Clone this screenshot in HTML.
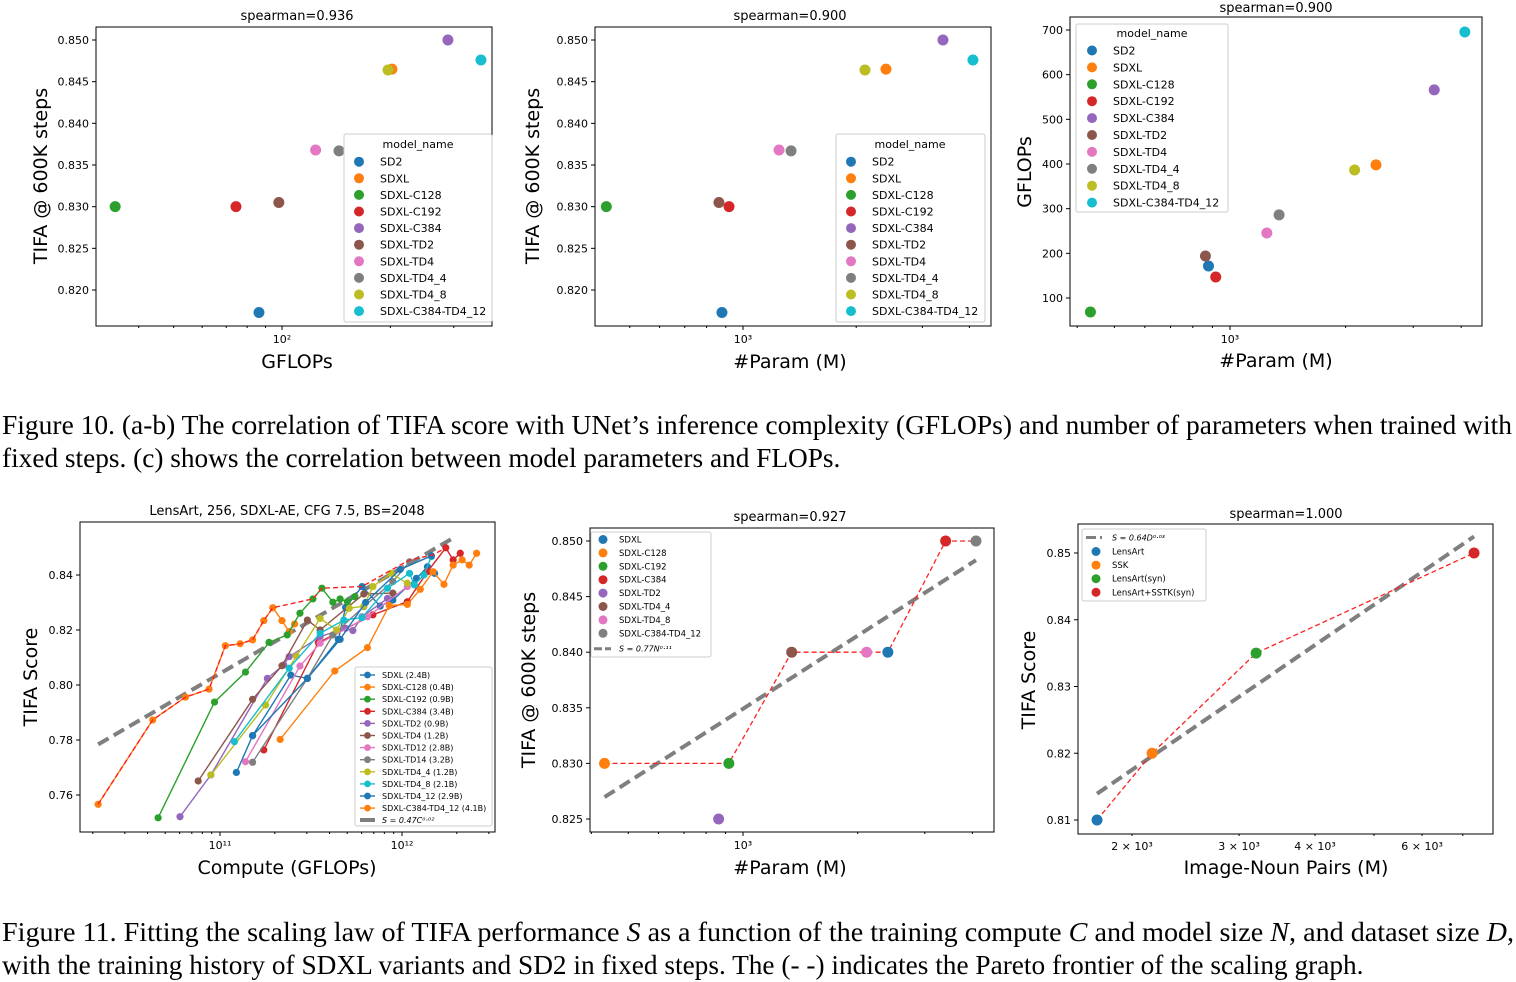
<!DOCTYPE html>
<html><head><meta charset="utf-8"><style>
html,body{margin:0;padding:0;background:#fff;}
svg{display:block;font-family:"DejaVu Sans","Liberation Sans",sans-serif;}
.cap{font-family:"Liberation Serif",serif;font-size:27.3px;fill:#000;}
</style></head><body>
<svg id="fig" width="1516" height="982" viewBox="0 0 1516 982" xmlns="http://www.w3.org/2000/svg">
<text class="cap" x="2" y="434" textLength="1510" lengthAdjust="spacingAndGlyphs">Figure 10. (a-b) The correlation of TIFA score with UNet’s inference complexity (GFLOPs) and number of parameters when trained with</text>
<text class="cap" x="2" y="467">fixed steps. (c) shows the correlation between model parameters and FLOPs.</text>
<text class="cap" x="2" y="941" textLength="1512" lengthAdjust="spacingAndGlyphs">Figure 11. Fitting the scaling law of TIFA performance <tspan font-style="italic">S</tspan> as a function of the training compute <tspan font-style="italic">C</tspan> and model size <tspan font-style="italic">N</tspan>, and dataset size <tspan font-style="italic">D</tspan>,</text>
<text class="cap" x="2" y="974">with the training history of SDXL variants and SD2 in fixed steps. The (- -) indicates the Pareto frontier of the scaling graph.</text>
</svg>
<script>
// ---------- data ----------
const models = ['SD2','SDXL','SDXL-C128','SDXL-C192','SDXL-C384','SDXL-TD2','SDXL-TD4','SDXL-TD4_4','SDXL-TD4_8','SDXL-C384-TD4_12'];
const fig10aGflops = [86.3,202,34.4,74.5,289,98,124,144,197,357];
const fig10Tifa = [0.8173,0.8465,0.830,0.830,0.850,0.8305,0.8368,0.8367,0.8464,0.8476];
const fig10Params = [879,2400,433,918,3403,863,1247,1342,2111,4088];
const fig10cGflops = [171.6,398,68.7,147,566,194,245.5,286,386.5,695.5];
const tifaTicks = [0.850,0.845,0.840,0.835,0.830,0.825,0.820];
const gflopTicks = [100,200,300,400,500,600,700];

const f11Names = ['SDXL (2.4B)','SDXL-C128 (0.4B)','SDXL-C192 (0.9B)','SDXL-C384 (3.4B)','SDXL-TD2 (0.9B)','SDXL-TD4 (1.2B)','SDXL-TD12 (2.8B)','SDXL-TD14 (3.2B)','SDXL-TD4_4 (1.2B)','SDXL-TD4_8 (2.1B)','SDXL-TD4_12 (2.9B)','SDXL-C384-TD4_12 (4.1B)'];
const cSDXL = [1.23e11,1.51e11,2.45e11,3.02e11,4.47e11,4.90e11,6.03e11,7.59e11,8.91e11,1.20e12,1.38e12,1.51e12];
const sSDXL = [.7682,.7816,.8036,.8024,.8166,.8282,.8358,.8287,.8309,.8388,.843,.8406];
const cC128 = [2.14e10,4.27e10,6.46e10,8.71e10,1.07e11,1.29e11,1.51e11,1.74e11,1.95e11,2.19e11,2.40e11,2.57e11];
const sC128 = [.7566,.7873,.7956,.7985,.8143,.815,.8164,.8234,.8281,.8234,.8194,.8222];
const cC192 = [4.57e10,9.33e10,1.38e11,1.86e11,2.34e11,2.75e11,3.24e11,3.63e11,4.17e11,4.57e11,5.01e11,5.50e11];
const sC192 = [.7517,.7938,.8047,.8155,.8182,.8261,.8313,.8352,.8301,.8313,.8303,.8321];
const cC384 = [1.74e11,3.47e11,6.92e11,1.07e12,1.38e12,1.74e12,1.91e12,2.09e12];
const sC384 = [.7764,.8154,.8255,.8303,.8412,.8499,.8455,.8479];
const cTD2 = [6.03e10,8.91e10,1.82e11,2.24e11,2.40e11,3.55e11,4.90e11,5.37e11,6.03e11,8.32e11];
const sTD2 = [.7521,.7673,.8024,.8073,.8103,.8176,.8206,.8198,.8248,.8315];
const cTD4 = [7.59e10,1.51e11,2.19e11,3.02e11,3.55e11,6.17e11,8.91e11];
const sTD4 = [.7651,.7948,.807,.8236,.82,.8331,.8334];
const cTD12 = [1.38e11,2.75e11,3.55e11,6.46e11,1.07e12];
const sTD12 = [.7721,.8069,.8152,.8248,.8358];
const cTD14 = [1.51e11,3.02e11,4.17e11,6.17e11,8.91e11,1.10e12];
const sTD14 = [.7719,.8024,.8182,.8285,.8376,.8448];
const cTD44 = [8.91e10,1.78e11,2.63e11,3.55e11,4.37e11,5.13e11,6.17e11,6.92e11,8.71e11,1.07e12];
const sTD44 = [.7673,.7927,.8105,.8242,.82,.8279,.8287,.8358,.8406,.837];
const cTD48 = [1.20e11,2.40e11,3.55e11,4.79e11,6.03e11,8.32e11,1.10e12,1.17e12,1.32e12,1.45e12];
const sTD48 = [.7794,.8061,.8188,.8236,.8245,.8352,.8406,.8364,.84,.8467];
const cTD412 = [1.51e11,3.02e11,4.57e11,6.31e11,9.77e11,1.45e12];
const sTD412 = [.7816,.8024,.8166,.83,.842,.847];
const cC384TD = [2.14e11,4.27e11,6.46e11,8.51e11,1.07e12,1.26e12,1.48e12,1.70e12,1.91e12,2.14e12,2.34e12,2.57e12];
const sC384TD = [.7802,.8051,.8136,.8289,.8293,.8348,.8412,.8366,.8436,.8455,.8436,.8479];
const cPareto = [2.14e10,4.27e10,6.46e10,8.71e10,1.07e11,1.29e11,1.51e11,1.74e11,1.95e11,3.24e11,3.63e11,6.03e11,1.10e12,1.48e12,1.74e12];
const sPareto = [.7566,.7873,.7956,.7985,.8143,.815,.8164,.8234,.8281,.8313,.8352,.8358,.8455,.8473,.8499];
const computeFitA = 0.478, computeFitB = 0.0205, computeFitRange = [2.14e10,1.86e12];
const f11aTicks = [0.84,0.82,0.80,0.78,0.76];

const f11bNames = ['SDXL','SDXL-C128','SDXL-C192','SDXL-C384','SDXL-TD2','SDXL-TD4_4','SDXL-TD4_8','SDXL-C384-TD4_12'];
const f11bParams = [2400,433,918,3403,863,1342,2111,4088];
const f11bTifa = [.840,.830,.830,.850,.825,.840,.840,.850];
const f11bParetoIdx = [1,2,5,0,3,7];
const paramFitA = 0.772, paramFitB = 0.01133;
const f11bTicks = [0.850,0.845,0.840,0.835,0.830,0.825];

const f11cNames = ['LensArt','SSK','LensArt(syn)','LensArt+SSTK(syn)'];
const f11cPairs = [1752,2158,3200,7305];
const f11cTifa = [0.81,0.82,0.835,0.85];
const dataFitA = 0.639, dataFitB = 0.0324;
const f11cTicks = [0.85,0.84,0.83,0.82,0.81];
const f11cXTicks = [2000,3000,4000,6000];
const f11cXLabels = ['2 × 10³','3 × 10³','4 × 10³','6 × 10³'];

// ---------- helpers ----------
const T10 = ['#1f77b4','#ff7f0e','#2ca02c','#d62728','#9467bd','#8c564b','#e377c2','#7f7f7f','#bcbd22','#17becf'];
const svg = document.getElementById('fig');
const NS = 'http://www.w3.org/2000/svg';
function el(tag, attrs, parent){ const e=document.createElementNS(NS,tag); for(const k in attrs) e.setAttribute(k,attrs[k]); (parent||svg).appendChild(e); return e; }
function txt(s, attrs, parent){ const e=el('text',attrs,parent); e.textContent=s; return e; }
const lin = (d0,d1,p0,p1)=>v=>p0+(v-d0)/(d1-d0)*(p1-p0);
const logs = (ref,px,dec)=>v=>px+(Math.log10(v)-Math.log10(ref))*dec;

function frame(g,x0,y0,x1,y1){
  const r=el('rect',{x:x0,y:y0,width:x1-x0,height:y1-y0,fill:'none',stroke:'#000','stroke-width':1},g);
   
}
function yTicks(g,x0,vals,fy,fmt,fs){
  vals.forEach(v=>{ const y=fy(v);
    el('line',{x1:x0-4,x2:x0,y1:y,y2:y,stroke:'#000'},g);
    const t=txt(fmt(v),{x:x0-7,y:y+4,'font-size':fs,'text-anchor':'end'},g);
     
  });
}
function logMinor(g,fx,lo,hi,yb,x0,x1){
  for(let e=Math.floor(Math.log10(lo));e<=Math.ceil(Math.log10(hi));e++){
    for(let k=1;k<10;k++){ const v=k*Math.pow(10,e); const x=fx(v); if(x<x0||x>x1) continue;
      el('line',{x1:x,x2:x,y1:yb,y2:yb+(k==1?4:2),stroke:'#000'},g);}
  }
}
function label(s,attrs,g,name){ const t=txt(s,attrs,g);   return t; }
function dot(g,x,y,r,c,name){ const d=el('circle',{cx:x,cy:y,r:r,fill:c},g);   return d; }
function legendBox(g,x,y,w,h){ const r=el('rect',{x:x,y:y,width:w,height:h,rx:2,fill:'#fff','fill-opacity':0.85,stroke:'#ccc'},g);   }

// ---------- Fig10 a ----------
(function(){
  const g=el('g',{});  
  const X0=96,X1=492,Y0=27,Y1=326;
  const fx=logs(100,282,360), fy=lin(0.850,0.820,40,290);
  frame(g,X0,Y0,X1,Y1);
  yTicks(g,X0,tifaTicks.slice(0,7),fy,v=>v.toFixed(3),11);
  logMinor(g,fx,20,500,Y1,X0,X1);
  label('10²',{x:282,y:343,'font-size':11,'text-anchor':'middle'},g,'x-tick-label');
  models.forEach((m,i)=>dot(g,fx(fig10aGflops[i]),fy(fig10Tifa[i]),5.5,T10[i],'point-'+m.toLowerCase()));
  label('spearman=0.936',{x:297,y:20,'font-size':13,'text-anchor':'middle'},g,'chart-title');
  label('GFLOPs',{x:297,y:368,'font-size':19,'text-anchor':'middle'},g,'x-axis-title');
  label('TIFA @ 600K steps',{x:0,y:0,'font-size':19,'text-anchor':'middle',transform:'translate(47,176) rotate(-90)'},g,'y-axis-title');
  legendBox(g,344,134,148,188);
  label('model_name',{x:418,y:148,'font-size':11,'text-anchor':'middle'},g,'legend-title');
  models.forEach((m,i)=>{ dot(g,359,161.7+16.6*i,5,T10[i],'legend-marker'); label(m,{x:380,y:165.7+16.6*i,'font-size':11},g,'legend-entry'); });
})();

// ---------- Fig10 b ----------
(function(){
  const g=el('g',{});  
  const X0=595,X1=991,Y0=27,Y1=326;
  const fx=logs(1000,743,376), fy=lin(0.850,0.820,40,290);
  frame(g,X0,Y0,X1,Y1);
  yTicks(g,X0,tifaTicks,fy,v=>v.toFixed(3),11);
  logMinor(g,fx,300,6000,Y1,X0,X1);
  label('10³',{x:743,y:343,'font-size':11,'text-anchor':'middle'},g,'x-tick-label');
  models.forEach((m,i)=>dot(g,fx(fig10Params[i]),fy(fig10Tifa[i]),5.5,T10[i],'point-'+m.toLowerCase()));
  label('spearman=0.900',{x:790,y:20,'font-size':13,'text-anchor':'middle'},g,'chart-title');
  label('#Param (M)',{x:790,y:368,'font-size':19,'text-anchor':'middle'},g,'x-axis-title');
  label('TIFA @ 600K steps',{x:0,y:0,'font-size':19,'text-anchor':'middle',transform:'translate(539,176) rotate(-90)'},g,'y-axis-title');
  legendBox(g,836,134,149,188);
  label('model_name',{x:910,y:148,'font-size':11,'text-anchor':'middle'},g,'legend-title');
  models.forEach((m,i)=>{ dot(g,851,161.7+16.6*i,5,T10[i],'legend-marker'); label(m,{x:872,y:165.7+16.6*i,'font-size':11},g,'legend-entry'); });
})();

// ---------- Fig10 c ----------
(function(){
  const g=el('g',{});  
  const X0=1070,X1=1482,Y0=17,Y1=326;
  const fx=logs(1000,1230,384), fy=lin(100,700,298,30);
  frame(g,X0,Y0,X1,Y1);
  yTicks(g,X0,gflopTicks,fy,v=>String(v),11);
  logMinor(g,fx,300,6000,Y1,X0,X1);
  label('10³',{x:1230,y:343,'font-size':11,'text-anchor':'middle'},g,'x-tick-label');
  models.forEach((m,i)=>dot(g,fx(fig10Params[i]),fy(fig10cGflops[i]),5.5,T10[i],'point-'+m.toLowerCase()));
  label('spearman=0.900',{x:1276,y:12,'font-size':13,'text-anchor':'middle'},g,'chart-title');
  label('#Param (M)',{x:1276,y:367,'font-size':19,'text-anchor':'middle'},g,'x-axis-title');
  label('GFLOPs',{x:0,y:0,'font-size':19,'text-anchor':'middle',transform:'translate(1031,172) rotate(-90)'},g,'y-axis-title');
  legendBox(g,1076,24,152,188);
  label('model_name',{x:1152,y:37,'font-size':11,'text-anchor':'middle'},g,'legend-title');
  models.forEach((m,i)=>{ dot(g,1092,50.5+16.9*i,5,T10[i],'legend-marker'); label(m,{x:1113,y:54.5+16.9*i,'font-size':11},g,'legend-entry'); });
})();

// ---------- Fig11 a ----------
(function(){
  const g=el('g',{});  
  const X0=80,X1=495,Y0=522,Y1=832;
  const fx=logs(1e11,220,182), fy=lin(0.84,0.76,575,795);
  frame(g,X0,Y0,X1,Y1);
  yTicks(g,X0,f11aTicks,fy,v=>v.toFixed(2),11);
  logMinor(g,fx,1e10,4e12,Y1,X0,X1);
  label('10¹¹',{x:220,y:849,'font-size':11,'text-anchor':'middle'},g,'x-tick-label');
  label('10¹²',{x:402,y:849,'font-size':11,'text-anchor':'middle'},g,'x-tick-label');
  const fit=el('line',{x1:fx(computeFitRange[0]),y1:fy(computeFitA*Math.pow(10,computeFitB*Math.log10(computeFitRange[0]))),x2:fx(computeFitRange[1]),y2:fy(computeFitA*Math.pow(10,computeFitB*Math.log10(computeFitRange[1]))),stroke:'#7f7f7f','stroke-width':4,'stroke-dasharray':'12 6'},g);
   
  const series=[[cSDXL,sSDXL],[cC128,sC128],[cC192,sC192],[cC384,sC384],[cTD2,sTD2],[cTD4,sTD4],[cTD12,sTD12],[cTD14,sTD14],[cTD44,sTD44],[cTD48,sTD48],[cTD412,sTD412],[cC384TD,sC384TD]];
  const scol=[T10[0],T10[1],T10[2],T10[3],T10[4],T10[5],T10[6],T10[7],T10[8],T10[9],T10[0],T10[1]];
  series.forEach((s,k)=>{
    const pts=s[0].map((c,i)=>fx(c).toFixed(1)+','+fy(s[1][i]).toFixed(1)).join(' ');
    const pl=el('polyline',{points:pts,fill:'none',stroke:scol[k],'stroke-width':1.4},g);
     
    s[0].forEach((c,i)=>dot(g,fx(c),fy(s[1][i]),3.6,scol[k],'series-point'));
  });
  const pp=el('polyline',{points:cPareto.map((c,i)=>fx(c).toFixed(1)+','+fy(sPareto[i]).toFixed(1)).join(' '),fill:'none',stroke:'#ff2020','stroke-width':1.4,'stroke-dasharray':'5 3'},g);
   
  label('LensArt, 256, SDXL-AE, CFG 7.5, BS=2048',{x:287,y:515,'font-size':13,'text-anchor':'middle'},g,'chart-title');
  label('Compute (GFLOPs)',{x:287,y:874,'font-size':19,'text-anchor':'middle'},g,'x-axis-title');
  label('TIFA Score',{x:0,y:0,'font-size':19,'text-anchor':'middle',transform:'translate(37,677) rotate(-90)'},g,'y-axis-title');
  legendBox(g,355,667,137,159);
  f11Names.forEach((n,i)=>{ const y=675+12.1*i;
    el('line',{x1:360,x2:375,y1:y,y2:y,stroke:scol[i],'stroke-width':1.4},g);
    dot(g,367.5,y,3.4,scol[i],'legend-marker');
    label(n,{x:382,y:y+3,'font-size':8},g,'legend-entry'); });
  el('line',{x1:360,x2:375,y1:820,y2:820,stroke:'#7f7f7f','stroke-width':4},g);
  label('S = 0.47C⁰·⁰²',{x:382,y:823,'font-size':8,'font-style':'italic'},g,'legend-entry');
})();

// ---------- Fig11 b ----------
(function(){
  const g=el('g',{});  
  const X0=590,X1=994,Y0=528,Y1=832;
  const fx=logs(1000,743,381), fy=lin(0.850,0.825,541,819);
  frame(g,X0,Y0,X1,Y1);
  yTicks(g,X0,f11bTicks,fy,v=>v.toFixed(3),11);
  logMinor(g,fx,300,6000,Y1,X0,X1);
  label('10³',{x:743,y:849,'font-size':11,'text-anchor':'middle'},g,'x-tick-label');
  const n0=433,n1=4088;
  const fit=el('line',{x1:fx(n0),y1:fy(paramFitA*Math.pow(n0,paramFitB)),x2:fx(n1),y2:fy(paramFitA*Math.pow(n1,paramFitB)),stroke:'#7f7f7f','stroke-width':4,'stroke-dasharray':'12 6'},g);
   
  const pp=el('polyline',{points:f11bParetoIdx.map(i=>fx(f11bParams[i]).toFixed(1)+','+fy(f11bTifa[i]).toFixed(1)).join(' '),fill:'none',stroke:'#ff2020','stroke-width':1.3,'stroke-dasharray':'5 3'},g);
   
  f11bNames.forEach((n,i)=>dot(g,fx(f11bParams[i]),fy(f11bTifa[i]),5.5,T10[i],'point-'+n.toLowerCase()));
  label('spearman=0.927',{x:790,y:521,'font-size':13,'text-anchor':'middle'},g,'chart-title');
  label('#Param (M)',{x:790,y:874,'font-size':19,'text-anchor':'middle'},g,'x-axis-title');
  label('TIFA @ 600K steps',{x:0,y:0,'font-size':19,'text-anchor':'middle',transform:'translate(535,680) rotate(-90)'},g,'y-axis-title');
  legendBox(g,591,532,120,125);
  f11bNames.forEach((n,i)=>{ const y=539.5+13.4*i; dot(g,603,y,4.5,T10[i],'legend-marker'); label(n,{x:619,y:y+3,'font-size':8.5},g,'legend-entry'); });
  el('line',{x1:594,x2:611,y1:648.7,y2:648.7,stroke:'#7f7f7f','stroke-width':3,'stroke-dasharray':'8 3'},g);
  label('S = 0.77N⁰·¹¹',{x:619,y:651.5,'font-size':8,'font-style':'italic'},g,'legend-entry');
})();

// ---------- Fig11 c ----------
(function(){
  const g=el('g',{});  
  const X0=1078,X1=1493,Y0=524,Y1=834;
  const fx=logs(2000,1132,608), fy=lin(0.85,0.81,553,820);
  frame(g,X0,Y0,X1,Y1);
  yTicks(g,X0,f11cTicks,fy,v=>v.toFixed(2),11);
  logMinor(g,fx,1000,9000,Y1,X0,X1);
  f11cXTicks.forEach((v,i)=>label(f11cXLabels[i],{x:fx(v),y:850,'font-size':11,'text-anchor':'middle'},g,'x-tick-label'));
  const d0=1752,d1=7305;
  const fit=el('line',{x1:fx(d0),y1:fy(dataFitA*Math.pow(d0,dataFitB)),x2:fx(d1),y2:fy(dataFitA*Math.pow(d1,dataFitB)),stroke:'#7f7f7f','stroke-width':4,'stroke-dasharray':'12 6'},g);
   
  const pp=el('polyline',{points:f11cPairs.map((d,i)=>fx(d).toFixed(1)+','+fy(f11cTifa[i]).toFixed(1)).join(' '),fill:'none',stroke:'#ff2020','stroke-width':1.3,'stroke-dasharray':'5 3'},g);
   
  f11cNames.forEach((n,i)=>dot(g,fx(f11cPairs[i]),fy(f11cTifa[i]),5.5,T10[i],'point-'+n.toLowerCase()));
  label('spearman=1.000',{x:1286,y:518,'font-size':13,'text-anchor':'middle'},g,'chart-title');
  label('Image-Noun Pairs (M)',{x:1286,y:874,'font-size':19,'text-anchor':'middle'},g,'x-axis-title');
  label('TIFA Score',{x:0,y:0,'font-size':19,'text-anchor':'middle',transform:'translate(1035,680) rotate(-90)'},g,'y-axis-title');
  legendBox(g,1082,529,124,72);
  el('line',{x1:1086,x2:1102,y1:537.5,y2:537.5,stroke:'#7f7f7f','stroke-width':3,'stroke-dasharray':'10 4'},g);
  label('S = 0.64D⁰·⁰³',{x:1112,y:540.5,'font-size':8,'font-style':'italic'},g,'legend-entry');
  f11cNames.forEach((n,i)=>{ const y=551.5+13.6*i; dot(g,1096,y,4.5,T10[i],'legend-marker'); label(n,{x:1112,y:y+3,'font-size':8.5},g,'legend-entry'); });
})();
</script>
</body></html>
